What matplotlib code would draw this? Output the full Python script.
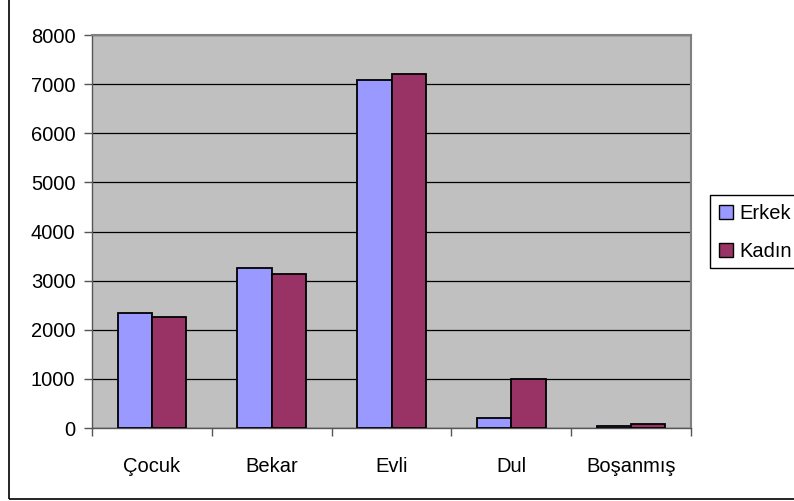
import matplotlib
matplotlib.use("Agg")
import matplotlib.pyplot as plt
import numpy as np
from matplotlib.patches import Rectangle

categories = ["Çocuk", "Bekar", "Evli", "Dul", "Boşanmış"]
erkek = [2350, 3250, 7080, 210, 40]
kadin = [2250, 3140, 7210, 990, 75]
yticks = [0, 1000, 2000, 3000, 4000, 5000, 6000, 7000, 8000]

plt.rcParams['font.family'] = ['Liberation Sans', 'DejaVu Sans']
FS = 14.5

W, H = 794, 501
fig = plt.figure(figsize=(W / 100, H / 100), dpi=100)
fig.patch.set_facecolor("white")

ax = fig.add_axes([92 / W, (H - 428) / H, (691 - 92) / W, (428 - 35) / H])
ax.set_facecolor("#C0C0C0")

x = np.arange(len(categories))
bw = 1 / 3.5
ax.bar(x - bw / 2, erkek, bw, color="#9999FF", edgecolor="black", linewidth=1.3, label="Erkek", zorder=3)
ax.bar(x + bw / 2, kadin, bw, color="#993366", edgecolor="black", linewidth=1.3, label="Kadın", zorder=3)

ax.set_xlim(-0.5, len(categories) - 0.5)
ax.set_ylim(0, 8000)
ax.set_yticks(yticks)
ax.set_yticklabels([str(v) for v in yticks], fontsize=FS)
ax.yaxis.grid(True, color="black", linewidth=0.9, zorder=1)
ax.set_axisbelow(True)

ax.set_xticks(x)
ax.set_xticklabels(categories, fontsize=FS)
ax.tick_params(axis="x", which="major", length=0, pad=21)
ax.set_xticks(np.arange(-0.5, len(categories)), minor=True)
ax.tick_params(axis="x", which="minor", length=6, width=1, color="#555555", direction="out")
ax.tick_params(axis="y", length=6, width=1, color="#555555", direction="out", pad=6)

for s in ["top", "right"]:
    ax.spines[s].set_color("#808080")
    ax.spines[s].set_linewidth(1.5)
for s in ["left", "bottom"]:
    ax.spines[s].set_color("#555555")
    ax.spines[s].set_linewidth(1)

leg = fig.legend(loc="upper left", bbox_to_anchor=(710 / W, 1 - 195 / H),
                 fontsize=FS, frameon=False,
                 handlelength=0.7, handleheight=0.7, handletextpad=0.3,
                 borderpad=0.45, labelspacing=0.95, borderaxespad=0)
for h in leg.legend_handles:
    h.set_linewidth(1)

# legend frame (cut off at the right edge, as in the reference)
fig.patches.append(Rectangle((710 / W, (H - 268) / H), 100 / W, (268 - 195) / H,
                             transform=fig.transFigure, fill=False,
                             edgecolor="black", linewidth=1, zorder=0))

# outer chart border (only left and bottom visible)
fig.patches.append(Rectangle((9 / W, (H - 499) / H), 800 / W, 510 / H,
                             transform=fig.transFigure, fill=False,
                             edgecolor="black", linewidth=1.2))

fig.savefig("out.png", dpi=100)
